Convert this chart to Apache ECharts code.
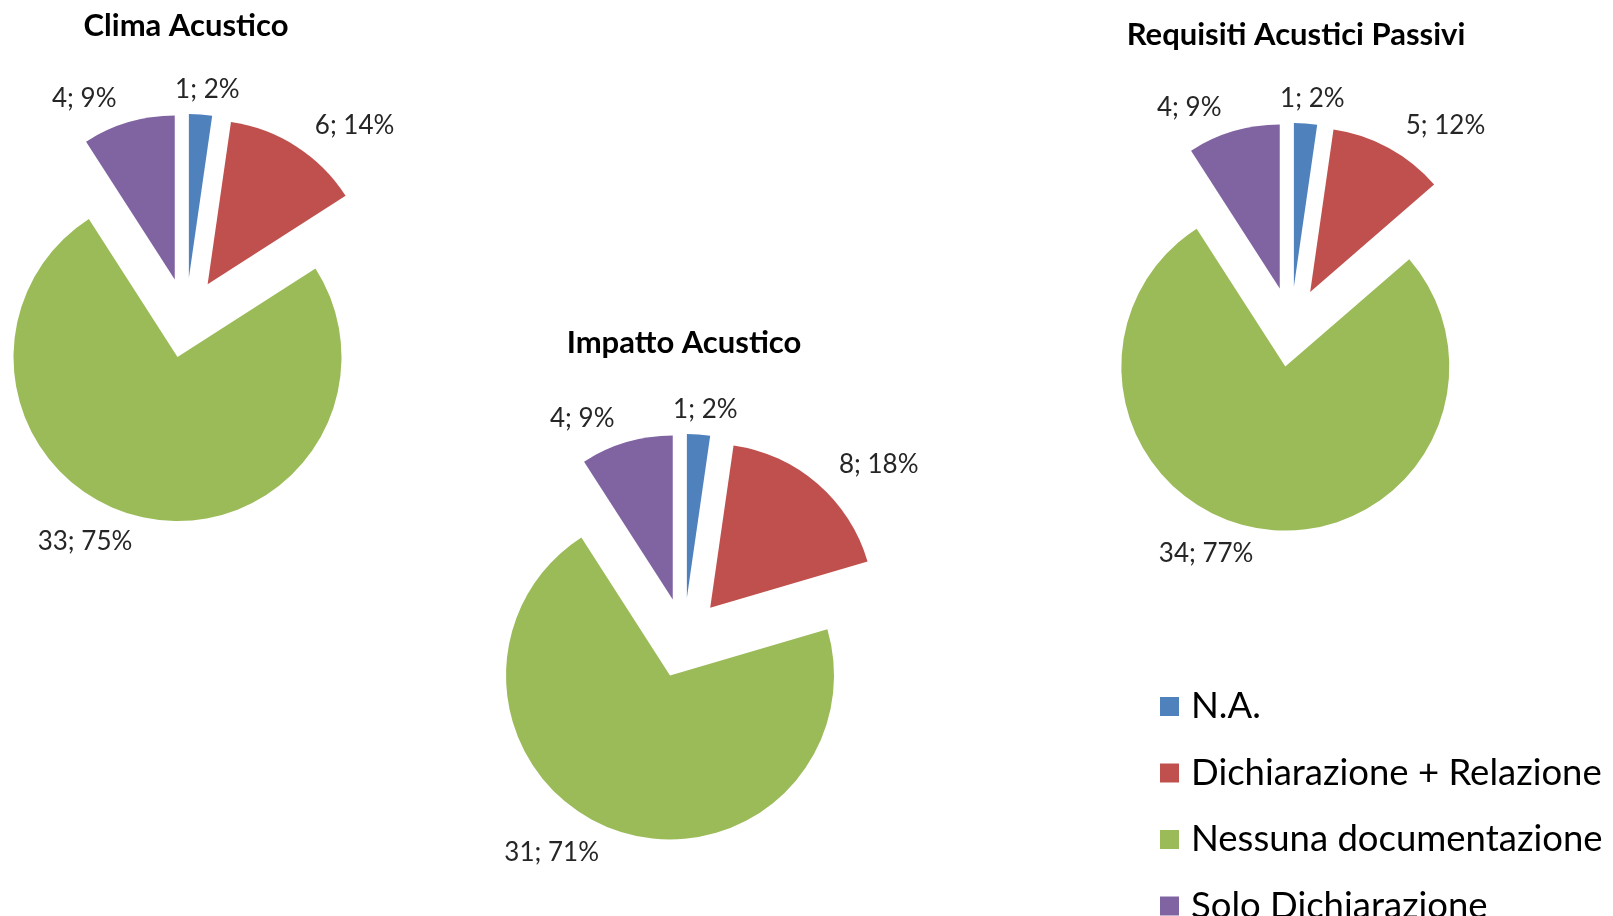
<!DOCTYPE html>
<html>
<head>
<meta charset="utf-8">
<script src="https://cdn.jsdelivr.net/npm/echarts@6/dist/echarts.min.js"></script>
<style>
  html, body { margin: 0; padding: 0; background: #fff; }
  #chart { width: 1613px; height: 916px; }
</style>
</head>
<body>
<div id="chart"></div>
<script>
var categories = ["N.A.", "Dichiarazione + Relazione", "Nessuna documentazione", "Solo Dichiarazione"];
var titles = ["Clima Acustico", "Impatto Acustico", "Requisiti Acustici Passivi"];
var climaValues = [1, 6, 33, 4];
var impattoValues = [1, 8, 31, 4];
var requisitiValues = [1, 5, 34, 4];
var colors = ["#4F81BD", "#C0504D", "#9BBB59", "#8064A2"];

var chart = echarts.init(document.getElementById("chart"));

// pie position [center x, center y] for each chart
var centers = [[186, 318], [684, 638], [1291, 327]];
var titlePos = [[181, 5], [679, 322], [1291, 14]];
var allValues = [climaValues, impattoValues, requisitiValues];

function makeData(values) {
  return values.map(function(v, i) {
    return { name: categories[i], value: v, selected: true };
  });
}

var series = allValues.map(function(values, k) {
  return {
    name: titles[k],
    type: "pie",
    center: centers[k],
    radius: 164,
    startAngle: 90,
    clockwise: true,
    selectedMode: "multiple",
    selectedOffset: 40,
    percentPrecision: 0,
    avoidLabelOverlap: false,
    label: {
      show: true,
      position: "outside",
      formatter: "{c}; {d}%",
      fontFamily: "Lato",
      fontSize: 26,
      color: "#262626"
    },
    labelLine: { show: false, length: 25, length2: 0 },
    // small slice label sits centred over its slice, as in Excel
    labelLayout: function(p) {
      if (p.dataIndex === 0) return { align: "center" };
      return {};
    },
    select: { itemStyle: { borderWidth: 0 } },
    emphasis: { scale: false },
    data: makeData(values)
  };
});

var option = {
  animation: false,
  color: colors,
  title: titles.map(function(t, k) {
    return {
      text: t,
      left: titlePos[k][0],
      top: titlePos[k][1],
      textAlign: "center",
      textStyle: { fontFamily: "Lato", fontWeight: "bold", fontSize: 31, color: "#000" }
    };
  }),
  legend: {
    orient: "vertical",
    left: 1155,
    top: 683,
    height: 300,
    icon: "rect",
    itemWidth: 19,
    itemHeight: 19,
    itemGap: 29.5,
    selectedMode: false,
    data: categories,
    textStyle: { fontFamily: "Lato", fontSize: 36.5, color: "#000", lineHeight: 36, padding: [0, 0, 0, 7] }
  },
  series: series
};

chart.setOption(option);
</script>
</body>
</html>
